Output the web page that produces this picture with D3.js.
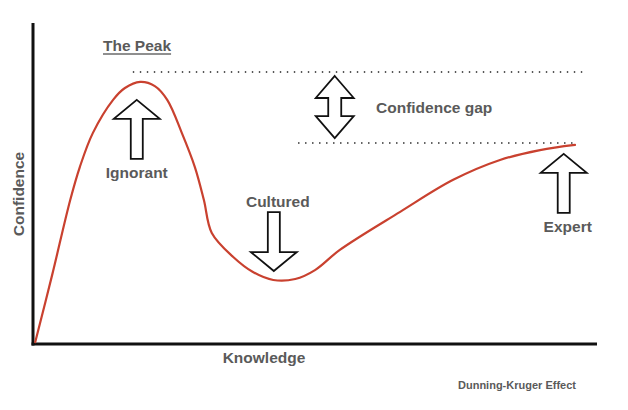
<!DOCTYPE html>
<html>
<head>
<meta charset="utf-8">
<script src="https://cdn.jsdelivr.net/npm/d3@7"></script>
<style>
  html, body { margin: 0; padding: 0; background: #fff; }
  svg { display: block; }
  text { font-family: "Liberation Sans", Arial, Helvetica, sans-serif; }
</style>
</head>
<body>
<svg id="chart" width="628" height="410"></svg>
<script>
// ---- data (knowledge 0..100, confidence 0..100) ----
const knowledge = [0.4, 3.4, 6.6, 8.3, 10.6, 14.2, 16.3, 19.0, 21.6, 23.8, 26.4, 28.7, 30.3, 31.7, 35.5, 39.0, 42.6, 46.5, 50.0, 54.4, 65.1, 74.5, 82.8, 89.9, 96.1];
const confidence = [0.6, 21.6, 45.0, 55.3, 65.9, 76.3, 80.0, 81.9, 80.6, 76.3, 65.9, 55.3, 45.0, 34.7, 27.2, 22.5, 20.0, 20.3, 23.1, 29.4, 41.3, 51.3, 57.5, 60.6, 62.2];
const levelValues = [85.0, 62.8];          // peak confidence, expert confidence
const levelStarts = [17.7, 47.0];          // knowledge where each dotted line starts
const levelEnds = [97.5, 95.7];            // knowledge where each dotted line ends
const labelTexts = ["Ignorant", "Cultured", "Expert"];
const labelKnowledge = [18.4, 42.7, 94.1];  // arrow tip positions
const labelConfidence = [76.3, 22.8, 59.4];
const labelDirs = ["up", "down", "up"];
const axisTitles = { x: "Knowledge", y: "Confidence" };
const title = "The Peak";
const gapLabel = "Confidence gap";
const caption = "Dunning-Kruger Effect";

const svg = d3.select("#chart");
const x = d3.scaleLinear().domain([0, 100]).range([33, 597]);
const y = d3.scaleLinear().domain([0, 100]).range([344, 24]);

// axes (no ticks)
const xAxis = d3.axisBottom(x).tickValues([]).tickSizeOuter(0);
const yAxis = d3.axisLeft(y).tickValues([]).tickSizeOuter(0);
const gx = svg.append("g").attr("transform", `translate(0,${y(0)})`).call(xAxis);
gx.select(".domain").attr("stroke", "#111").attr("stroke-width", 3).attr("d", `M${x(0) - 1.5},0H${x(100)}`);
const gy = svg.append("g").attr("transform", `translate(${x(0)},0)`).call(yAxis);
gy.select(".domain").attr("stroke", "#111").attr("stroke-width", 3).attr("d", `M0,${y(100) - 1}V${y(0) + 1.5}`);

// dotted level lines
levelValues.forEach((v, i) => {
  svg.append("line")
    .attr("x1", x(levelStarts[i])).attr("x2", x(levelEnds[i]))
    .attr("y1", y(v)).attr("y2", y(v))
    .attr("stroke", "#222").attr("stroke-width", 1.6)
    .attr("stroke-dasharray", "1.4 5.6");
});

// curve
const pts = knowledge.map((k, i) => [k, confidence[i]]);
const line = d3.line().x(d => x(d[0])).y(d => y(d[1])).curve(d3.curveCatmullRom.alpha(0.5));
svg.append("path").datum(pts).attr("d", line)
  .attr("fill", "none").attr("stroke", "#c9412f").attr("stroke-width", 2.2)
  .attr("stroke-linejoin", "round").attr("stroke-linecap", "round");

// arrows
function arrowPath(tx, ty, dir, headLen, headHalf, shaftHalf, total) {
  const s = dir === "up" ? 1 : -1;
  const hb = ty + s * headLen, end = ty + s * total;
  return `M${tx},${ty} L${tx + headHalf},${hb} L${tx + shaftHalf},${hb} L${tx + shaftHalf},${end} L${tx - shaftHalf},${end} L${tx - shaftHalf},${hb} L${tx - headHalf},${hb} Z`;
}
labelTexts.forEach((t, i) => {
  const tx = x(labelKnowledge[i]), ty = y(labelConfidence[i]);
  svg.append("path")
    .attr("d", arrowPath(tx, ty, labelDirs[i], 19, 23, 6, 59))
    .attr("fill", "#fff").attr("stroke", "#111").attr("stroke-width", 1.8)
    .attr("stroke-linejoin", "miter");
});

// double arrow for confidence gap
{
  const gx2 = x(53.5), t1 = y(levelValues[0]) + 4, t2 = y(levelValues[1]) - 5;
  const hl = 22, hh = 19, sh = 6.5;
  const d = `M${gx2},${t1} L${gx2 + hh},${t1 + hl} L${gx2 + sh},${t1 + hl} L${gx2 + sh},${t2 - hl} L${gx2 + hh},${t2 - hl} L${gx2},${t2} L${gx2 - hh},${t2 - hl} L${gx2 - sh},${t2 - hl} L${gx2 - sh},${t1 + hl} L${gx2 - hh},${t1 + hl} Z`;
  svg.append("path").attr("d", d).attr("fill", "#fff").attr("stroke", "#111").attr("stroke-width", 1.8);
  svg.append("text").attr("x", 376).attr("y", (t1 + t2) / 2 + 6)
    .attr("font-size", 15.5).attr("font-weight", "bold").attr("fill", "#5a5a5a").text(gapLabel);
}

// arrow labels
const labelOffsets = [78, -64, 78];
labelTexts.forEach((t, i) => {
  const tx = x(labelKnowledge[i]), ty = y(labelConfidence[i]);
  svg.append("text")
    .attr("x", tx + (i === 0 ? 0 : 4)).attr("y", ty + labelOffsets[i])
    .attr("text-anchor", "middle")
    .attr("font-size", 15.5).attr("font-weight", "bold").attr("fill", "#5a5a5a").text(t);
});

// title "The Peak" (underlined)
const tt = svg.append("text").attr("x", 103).attr("y", 51)
  .attr("font-size", 15.5).attr("font-weight", "bold").attr("fill", "#5a5a5a").text(title);
const tw = tt.node().getComputedTextLength();
svg.append("line").attr("x1", 103).attr("x2", 103 + tw).attr("y1", 54).attr("y2", 54)
  .attr("stroke", "#6a6a6a").attr("stroke-width", 1.4);

// axis titles
svg.append("text").attr("x", 264).attr("y", 363).attr("text-anchor", "middle")
  .attr("font-size", 15.5).attr("font-weight", "bold").attr("fill", "#5a5a5a").text(axisTitles.x);
svg.append("text").attr("transform", "translate(24,194) rotate(-90)").attr("text-anchor", "middle")
  .attr("font-size", 15.5).attr("font-weight", "bold").attr("fill", "#5a5a5a").text(axisTitles.y);

// caption
svg.append("text").attr("x", 458).attr("y", 389)
  .attr("font-size", 11).attr("font-weight", "bold").attr("fill", "#5a5a5a").text(caption);
</script>
</body>
</html>
